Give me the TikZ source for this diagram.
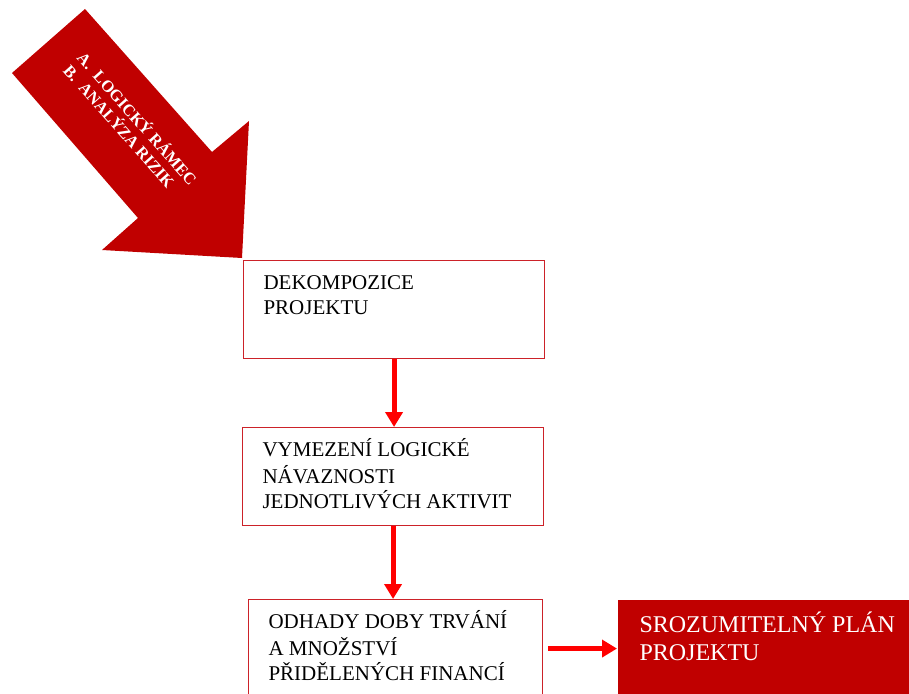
\documentclass[tikz,border=0pt]{standalone}
\usepackage{fontspec}
\setmainfont{Liberation Serif}
\usetikzlibrary{arrows.meta}
\definecolor{tmava}{HTML}{C00000}
\definecolor{ramecek}{HTML}{CC2229}
\definecolor{jasna}{HTML}{FF0000}

\begin{document}
\begin{tikzpicture}[x=1pt,y=-1pt,
  krok/.style={draw=ramecek,line width=1.1pt,anchor=north west,inner xsep=20pt,inner ysep=0pt,font=\fontsize{21}{25.5}\selectfont},
  sipka/.style={draw=jasna,line width=5pt,-{Triangle[length=15pt,width=17pt]}}]
  \useasboundingbox (0,0) rectangle (909,693);
  \clip (0,0) rectangle (909,693);
  % vstupni sipka
  \fill[tmava] (85,9)--(12,73)--(138,218)--(102,250)--(242,258)--(249,121)--(212,152)--cycle;
  \node[text=white,font=\bfseries\fontsize{16.5}{18.5}\selectfont,align=left,rotate=-48.4] (vstup) at (131,124) {A.\ \ LOGICKÝ RÁMEC\\B.\ \ ANALÝZA RIZIK};
  % kroky
  \node[krok] (dekompozice) at (243,260) {\parbox[c][98pt][t]{261pt}{\vspace*{11pt}\strut DEKOMPOZICE\\PROJEKTU}};
  \node[krok] (vymezeni) at (242,427) {\parbox[c][98pt][t]{261pt}{\vspace*{11pt}\strut VYMEZENÍ LOGICKÉ\\NÁVAZNOSTI\\JEDNOTLIVÝCH AKTIVIT}};
  \node[krok] (odhady) at (248,599) {\parbox[c][98pt][t]{254pt}{\vspace*{11pt}\strut ODHADY DOBY TRVÁNÍ\\A MNOŽSTVÍ\\PŘIDĚLENÝCH FINANCÍ}};
  \node[krok,draw=none,fill=tmava,text=white,inner xsep=22pt,font=\fontsize{24}{28}\selectfont] (plan) at (617,599) {\parbox[c][98pt][t]{256pt}{\vspace*{12.4pt}\strut SROZUMITELNÝ PLÁN\\PROJEKTU}};
  % spojnice
  \draw[sipka] (dekompozice.south) -- (dekompozice.south |- vymezeni.north);
  \draw[sipka] (vymezeni.south) -- (vymezeni.south |- odhady.north);
  \draw[sipka,shorten <=5pt] (odhady.east) -- (plan.west);
\end{tikzpicture}
\end{document}
